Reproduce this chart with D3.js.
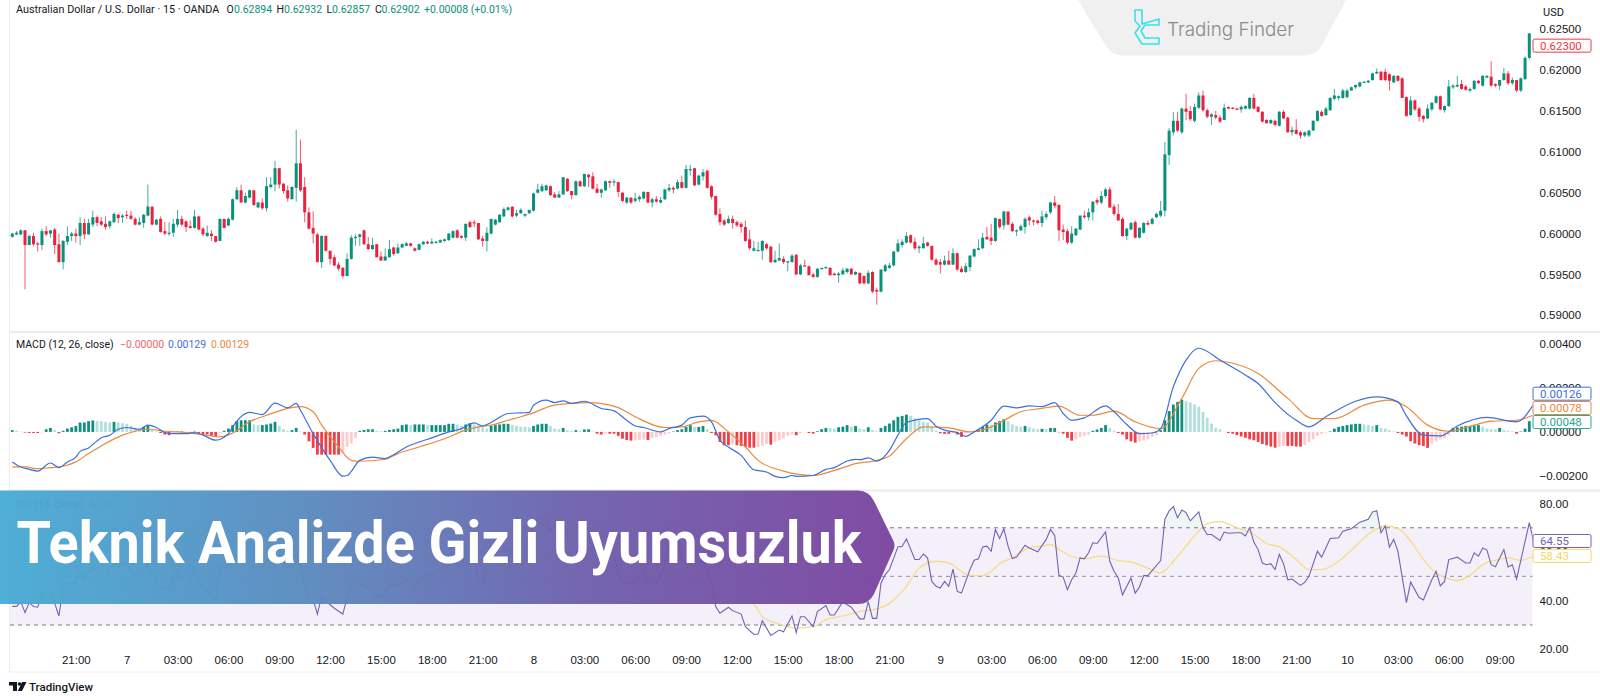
<!DOCTYPE html>
<html>
<head>
<meta charset="utf-8">
<script src="https://cdn.jsdelivr.net/npm/d3@7"></script>
<style>
  html, body { margin: 0; padding: 0; background: #fff; }
  svg { display: block; font-family: Roboto, "Liberation Sans", sans-serif; }
</style>
</head>
<body>
<div id="chart"></div>
<script>
// AUD/USD 15m candles
const opens = [
0.5996,0.5999,0.5999,0.6004,0.5986,0.5997,0.5988,0.5986,0.6003,0.6000,0.6005,0.5987,0.5965,0.5990,0.5997,0.6000,0.5997,0.6013,0.5999,0.6011,
0.6020,0.6015,0.6012,0.6009,0.6014,0.6023,0.6020,0.6023,0.6022,0.6018,0.6011,0.6013,0.6022,0.6033,0.6011,0.6018,0.6003,0.6000,0.6001,0.6011,
0.6018,0.6015,0.6009,0.6007,0.6021,0.6006,0.5997,0.6000,0.5997,0.5991,0.6018,0.6010,0.6017,0.6042,0.6053,0.6038,0.6044,0.6053,0.6032,0.6038,
0.6031,0.6057,0.6060,0.6080,0.6061,0.6053,0.6042,0.6056,0.6086,0.6057,0.6026,0.6007,0.5999,0.5965,0.5997,0.5979,0.5971,0.5962,0.5958,0.5948,
0.5969,0.5995,0.5996,0.6004,0.5987,0.5981,0.5987,0.5972,0.5967,0.5971,0.5983,0.5976,0.5983,0.5985,0.5988,0.5982,0.5980,0.5987,0.5990,0.5988,
0.5989,0.5989,0.5991,0.5992,0.5995,0.6004,0.5997,0.5995,0.6014,0.6014,0.6013,0.5994,0.5991,0.6000,0.6011,0.6014,0.6021,0.6029,0.6033,0.6022,
0.6025,0.6022,0.6025,0.6028,0.6050,0.6052,0.6053,0.6058,0.6048,0.6044,0.6048,0.6067,0.6052,0.6047,0.6064,0.6058,0.6072,0.6070,0.6055,0.6050,
0.6053,0.6064,0.6063,0.6063,0.6050,0.6038,0.6044,0.6040,0.6042,0.6043,0.6051,0.6038,0.6042,0.6038,0.6042,0.6053,0.6056,0.6055,0.6063,0.6056,
0.6078,0.6080,0.6060,0.6070,0.6077,0.6058,0.6046,0.6024,0.6016,0.6013,0.6018,0.6014,0.6012,0.6008,0.5993,0.5979,0.5979,0.5979,0.5987,0.5984,
0.5965,0.5967,0.5969,0.5965,0.5965,0.5974,0.5950,0.5961,0.5960,0.5950,0.5947,0.5957,0.5958,0.5958,0.5951,0.5949,0.5950,0.5953,0.5957,0.5950,
0.5952,0.5948,0.5939,0.5953,0.5931,0.5929,0.5954,0.5958,0.5961,0.5978,0.5986,0.5989,0.5998,0.5990,0.5982,0.5982,0.5989,0.5985,0.5968,0.5965,
0.5962,0.5967,0.5962,0.5976,0.5957,0.5953,0.5959,0.5972,0.5980,0.5982,0.5996,0.5995,0.5991,0.6018,0.6010,0.6027,0.6012,0.6003,0.6004,0.6008,
0.6020,0.6016,0.6016,0.6013,0.6020,0.6026,0.6038,0.6035,0.6005,0.6003,0.5989,0.5998,0.6005,0.6022,0.6020,0.6026,0.6041,0.6038,0.6046,0.6054,
0.6033,0.6024,0.6018,0.5997,0.6005,0.6014,0.5995,0.6001,0.6013,0.6012,0.6020,0.6022,0.6028,0.6096,0.6124,0.6138,0.6124,0.6153,0.6150,0.6138,
0.6154,0.6169,0.6151,0.6143,0.6145,0.6142,0.6139,0.6155,0.6154,0.6153,0.6152,0.6153,0.6153,0.6166,0.6155,0.6149,0.6139,0.6135,0.6138,0.6132,
0.6149,0.6142,0.6124,0.6127,0.6124,0.6120,0.6120,0.6126,0.6138,0.6149,0.6145,0.6151,0.6165,0.6166,0.6166,0.6167,0.6175,0.6179,0.6180,0.6185,
0.6185,0.6188,0.6196,0.6198,0.6198,0.6195,0.6185,0.6193,0.6190,0.6167,0.6145,0.6163,0.6153,0.6144,0.6141,0.6152,0.6160,0.6168,0.6151,0.6156,
0.6179,0.6180,0.6183,0.6180,0.6175,0.6177,0.6187,0.6181,0.6191,0.6192,0.6183,0.6181,0.6188,0.6196,0.6184,0.6188,0.6175,0.6189,0.6215];
const highs = [
0.6001,0.6003,0.6005,0.6004,0.5999,0.6001,0.5990,0.6006,0.6009,0.6004,0.6007,0.6000,0.5992,0.6009,0.6002,0.6006,0.6020,0.6018,0.6018,0.6028,
0.6022,0.6020,0.6021,0.6016,0.6026,0.6024,0.6024,0.6028,0.6028,0.6020,0.6020,0.6024,0.6060,0.6033,0.6018,0.6021,0.6014,0.6014,0.6018,0.6029,
0.6022,0.6016,0.6016,0.6029,0.6022,0.6008,0.6010,0.6004,0.5997,0.6018,0.6018,0.6020,0.6043,0.6057,0.6060,0.6050,0.6054,0.6053,0.6039,0.6043,
0.6069,0.6069,0.6089,0.6080,0.6062,0.6059,0.6058,0.6127,0.6115,0.6069,0.6032,0.6027,0.6001,0.5998,0.5998,0.5979,0.5974,0.5965,0.5959,0.5976,
0.5998,0.5999,0.6000,0.6005,0.5996,0.5995,0.5987,0.5978,0.5982,0.5992,0.5984,0.5988,0.5988,0.5990,0.5989,0.5983,0.5988,0.5991,0.5991,0.5994,
0.5991,0.5993,0.5994,0.6001,0.6004,0.6005,0.5998,0.6012,0.6016,0.6017,0.6013,0.5997,0.6008,0.6018,0.6018,0.6024,0.6032,0.6033,0.6033,0.6029,
0.6031,0.6024,0.6029,0.6050,0.6061,0.6061,0.6060,0.6059,0.6051,0.6052,0.6069,0.6068,0.6052,0.6065,0.6065,0.6073,0.6073,0.6075,0.6061,0.6055,
0.6065,0.6065,0.6067,0.6063,0.6051,0.6045,0.6044,0.6050,0.6047,0.6052,0.6051,0.6044,0.6046,0.6045,0.6055,0.6061,0.6058,0.6066,0.6071,0.6084,
0.6084,0.6080,0.6072,0.6079,0.6078,0.6059,0.6046,0.6031,0.6018,0.6022,0.6022,0.6016,0.6014,0.6016,0.6004,0.5991,0.5990,0.5992,0.5989,0.5985,
0.5979,0.5988,0.5972,0.5967,0.5975,0.5975,0.5963,0.5968,0.5961,0.5952,0.5958,0.5958,0.5960,0.5959,0.5952,0.5953,0.5958,0.5958,0.5958,0.5954,
0.5952,0.5949,0.5955,0.5954,0.5934,0.5956,0.5963,0.5964,0.5979,0.5993,0.5993,0.6002,0.5999,0.5995,0.5986,0.5996,0.5990,0.5985,0.5970,0.5969,
0.5973,0.5979,0.5982,0.5976,0.5960,0.5964,0.5974,0.5982,0.5993,0.6001,0.6008,0.6012,0.6020,0.6018,0.6028,0.6027,0.6014,0.6005,0.6011,0.6020,
0.6022,0.6017,0.6017,0.6028,0.6027,0.6039,0.6046,0.6036,0.6011,0.6006,0.6009,0.6007,0.6022,0.6028,0.6031,0.6040,0.6044,0.6052,0.6056,0.6057,
0.6036,0.6036,0.6020,0.6007,0.6014,0.6016,0.6008,0.6014,0.6016,0.6020,0.6026,0.6040,0.6112,0.6129,0.6149,0.6149,0.6154,0.6171,0.6156,0.6159,
0.6173,0.6175,0.6153,0.6147,0.6150,0.6145,0.6159,0.6155,0.6155,0.6154,0.6157,0.6157,0.6167,0.6171,0.6156,0.6150,0.6140,0.6140,0.6139,0.6150,
0.6151,0.6143,0.6131,0.6140,0.6126,0.6125,0.6127,0.6139,0.6151,0.6151,0.6155,0.6167,0.6177,0.6169,0.6177,0.6177,0.6180,0.6182,0.6186,0.6186,
0.6188,0.6197,0.6202,0.6199,0.6202,0.6196,0.6194,0.6194,0.6191,0.6168,0.6168,0.6164,0.6155,0.6145,0.6158,0.6161,0.6169,0.6169,0.6157,0.6188,
0.6183,0.6193,0.6188,0.6182,0.6179,0.6188,0.6188,0.6194,0.6194,0.6211,0.6184,0.6188,0.6203,0.6199,0.6191,0.6188,0.6191,0.6217,0.6245];
const lows = [
0.5995,0.5998,0.5998,0.5932,0.5986,0.5985,0.5978,0.5980,0.5997,0.5995,0.5975,0.5965,0.5956,0.5986,0.5991,0.5989,0.5986,0.5993,0.5999,0.6008,
0.6009,0.6009,0.6005,0.6006,0.6013,0.6013,0.6013,0.6018,0.6017,0.6010,0.6010,0.6007,0.6021,0.6010,0.6010,0.6001,0.5998,0.5997,0.5996,0.6008,
0.6009,0.6002,0.6006,0.6006,0.6004,0.5997,0.5996,0.5991,0.5989,0.5991,0.6006,0.6009,0.6016,0.6041,0.6038,0.6037,0.6043,0.6034,0.6031,0.6029,
0.6027,0.6055,0.6052,0.6055,0.6049,0.6039,0.6042,0.6039,0.6051,0.6014,0.6005,0.5988,0.5965,0.5958,0.5978,0.5962,0.5960,0.5954,0.5945,0.5948,
0.5968,0.5985,0.5985,0.5986,0.5980,0.5980,0.5971,0.5967,0.5967,0.5971,0.5973,0.5975,0.5982,0.5985,0.5984,0.5978,0.5980,0.5986,0.5987,0.5987,
0.5988,0.5989,0.5990,0.5991,0.5994,0.5994,0.5994,0.5991,0.6007,0.6008,0.5992,0.5984,0.5978,0.5999,0.6010,0.6013,0.6020,0.6028,0.6020,0.6020,
0.6024,0.6020,0.6024,0.6027,0.6049,0.6051,0.6052,0.6046,0.6044,0.6044,0.6047,0.6051,0.6042,0.6047,0.6057,0.6057,0.6057,0.6054,0.6049,0.6044,
0.6052,0.6056,0.6058,0.6045,0.6038,0.6036,0.6036,0.6038,0.6039,0.6042,0.6037,0.6032,0.6038,0.6037,0.6041,0.6051,0.6049,0.6054,0.6055,0.6055,
0.6071,0.6058,0.6059,0.6065,0.6055,0.6042,0.6022,0.6010,0.6009,0.6012,0.6006,0.6008,0.6001,0.5990,0.5980,0.5978,0.5978,0.5968,0.5980,0.5964,
0.5964,0.5967,0.5963,0.5954,0.5965,0.5949,0.5949,0.5960,0.5949,0.5946,0.5946,0.5956,0.5957,0.5949,0.5949,0.5940,0.5950,0.5951,0.5950,0.5949,
0.5938,0.5938,0.5938,0.5927,0.5913,0.5928,0.5953,0.5957,0.5960,0.5977,0.5983,0.5988,0.5988,0.5980,0.5976,0.5982,0.5984,0.5967,0.5961,0.5951,
0.5961,0.5962,0.5962,0.5954,0.5952,0.5952,0.5954,0.5971,0.5980,0.5981,0.5992,0.5986,0.5990,0.6006,0.6005,0.6010,0.6002,0.5997,0.6003,0.6000,
0.6010,0.6010,0.6011,0.6008,0.6017,0.6024,0.6031,0.5991,0.5992,0.5987,0.5987,0.5997,0.6004,0.6018,0.6016,0.6016,0.6035,0.6036,0.6044,0.6031,
0.6022,0.6016,0.5996,0.5992,0.6004,0.5994,0.5994,0.6000,0.6010,0.6011,0.6019,0.6020,0.6021,0.6084,0.6120,0.6124,0.6122,0.6139,0.6138,0.6136,
0.6152,0.6149,0.6141,0.6133,0.6140,0.6135,0.6139,0.6152,0.6152,0.6151,0.6148,0.6152,0.6152,0.6152,0.6148,0.6136,0.6135,0.6134,0.6131,0.6131,
0.6140,0.6123,0.6120,0.6121,0.6116,0.6118,0.6118,0.6126,0.6137,0.6143,0.6144,0.6150,0.6163,0.6163,0.6165,0.6165,0.6175,0.6177,0.6179,0.6184,
0.6184,0.6187,0.6195,0.6187,0.6186,0.6175,0.6184,0.6186,0.6166,0.6143,0.6144,0.6150,0.6137,0.6136,0.6140,0.6150,0.6159,0.6151,0.6148,0.6155,
0.6177,0.6179,0.6176,0.6175,0.6173,0.6176,0.6183,0.6180,0.6190,0.6180,0.6179,0.6176,0.6187,0.6182,0.6182,0.6173,0.6173,0.6188,0.6213];
const closes = [
0.6000,0.6001,0.6004,0.5986,0.5997,0.5987,0.5987,0.6003,0.5999,0.6004,0.5986,0.5965,0.5991,0.5997,0.6000,0.5997,0.6013,0.5999,0.6013,0.6020,
0.6013,0.6011,0.6008,0.6015,0.6024,0.6019,0.6022,0.6022,0.6018,0.6011,0.6014,0.6023,0.6033,0.6011,0.6017,0.6002,0.6000,0.6001,0.6012,0.6018,
0.6011,0.6008,0.6007,0.6021,0.6005,0.5999,0.6001,0.5997,0.5990,0.6018,0.6007,0.6018,0.6042,0.6053,0.6038,0.6046,0.6053,0.6035,0.6038,0.6031,
0.6058,0.6060,0.6080,0.6060,0.6052,0.6043,0.6057,0.6086,0.6053,0.6026,0.6006,0.6000,0.5965,0.5997,0.5979,0.5969,0.5961,0.5957,0.5948,0.5969,
0.5995,0.5996,0.5999,0.5987,0.5981,0.5986,0.5971,0.5967,0.5972,0.5981,0.5975,0.5983,0.5987,0.5988,0.5985,0.5979,0.5987,0.5990,0.5988,0.5990,
0.5990,0.5992,0.5993,0.6000,0.6003,0.5995,0.5995,0.6012,0.6008,0.6013,0.5993,0.5991,0.6001,0.6018,0.6017,0.6023,0.6030,0.6032,0.6021,0.6025,
0.6029,0.6024,0.6029,0.6049,0.6054,0.6058,0.6059,0.6047,0.6044,0.6048,0.6069,0.6052,0.6047,0.6064,0.6058,0.6073,0.6069,0.6055,0.6050,0.6054,
0.6064,0.6062,0.6064,0.6051,0.6040,0.6044,0.6038,0.6043,0.6045,0.6051,0.6038,0.6042,0.6039,0.6041,0.6054,0.6056,0.6054,0.6063,0.6056,0.6079,
0.6079,0.6059,0.6071,0.6075,0.6056,0.6045,0.6023,0.6014,0.6011,0.6018,0.6013,0.6010,0.6008,0.5991,0.5982,0.5982,0.5980,0.5991,0.5982,0.5965,
0.5968,0.5970,0.5965,0.5966,0.5973,0.5950,0.5961,0.5960,0.5949,0.5947,0.5957,0.5958,0.5959,0.5949,0.5949,0.5951,0.5955,0.5957,0.5950,0.5953,
0.5939,0.5939,0.5952,0.5929,0.5929,0.5956,0.5961,0.5961,0.5978,0.5988,0.5990,0.5997,0.5989,0.5982,0.5984,0.5988,0.5985,0.5968,0.5962,0.5962,
0.5967,0.5962,0.5976,0.5956,0.5953,0.5960,0.5973,0.5981,0.5982,0.5995,0.5993,0.5991,0.6019,0.6008,0.6027,0.6011,0.6003,0.6004,0.6009,0.6018,
0.6016,0.6015,0.6013,0.6021,0.6024,0.6038,0.6034,0.6004,0.6002,0.5989,0.6000,0.6006,0.6022,0.6020,0.6026,0.6039,0.6038,0.6046,0.6054,0.6032,
0.6024,0.6016,0.5997,0.6006,0.6013,0.5995,0.6007,0.6013,0.6011,0.6018,0.6024,0.6028,0.6097,0.6126,0.6138,0.6126,0.6153,0.6149,0.6140,0.6155,
0.6169,0.6151,0.6143,0.6146,0.6142,0.6137,0.6154,0.6153,0.6153,0.6152,0.6155,0.6156,0.6166,0.6153,0.6149,0.6137,0.6135,0.6139,0.6133,0.6149,
0.6141,0.6124,0.6127,0.6122,0.6120,0.6124,0.6126,0.6138,0.6150,0.6144,0.6153,0.6166,0.6169,0.6168,0.6175,0.6175,0.6179,0.6182,0.6185,0.6186,
0.6187,0.6196,0.6198,0.6188,0.6188,0.6187,0.6193,0.6187,0.6166,0.6144,0.6163,0.6152,0.6143,0.6140,0.6153,0.6160,0.6168,0.6152,0.6156,0.6180,
0.6181,0.6182,0.6177,0.6176,0.6177,0.6187,0.6184,0.6193,0.6193,0.6181,0.6181,0.6188,0.6196,0.6184,0.6188,0.6175,0.6190,0.6215,0.6245];

// MACD pane. Histogram has one reading per bar, the two lines are traced at their turning points
const macdHist = [
0.00008,0.00005,0.00002,-0.00003,-0.00005,-0.00005,-0.00005,-0.00002,0.00012,0.00018,0.00008,-0.00006,0.00005,0.00015,0.00021,0.00027,0.00043,0.00043,0.00049,0.00052,
0.00050,0.00049,0.00046,0.00043,0.00046,0.00043,0.00040,0.00037,0.00027,0.00018,0.00015,0.00023,0.00027,0.00008,0.00002,-0.00005,-0.00012,-0.00015,-0.00003,0.00002,
0.00002,-0.00002,-0.00003,0.00002,-0.00005,-0.00012,-0.00012,-0.00018,-0.00021,-0.00005,0.00005,0.00015,0.00031,0.00049,0.00053,0.00053,0.00053,0.00034,0.00031,0.00031,
0.00034,0.00038,0.00046,0.00027,0.00012,0.00005,0.00008,0.00018,0.00002,-0.00012,-0.00043,-0.00073,-0.00104,-0.00104,-0.00104,-0.00104,-0.00104,-0.00104,-0.00095,-0.00069,
-0.00053,-0.00027,0.00005,0.00009,0.00012,0.00012,0.00005,0.00003,0.00005,0.00009,0.00012,0.00015,0.00031,0.00034,0.00031,0.00034,0.00034,0.00034,0.00031,0.00031,
0.00031,0.00031,0.00031,0.00037,0.00037,0.00034,0.00027,0.00034,0.00040,0.00034,0.00027,0.00021,0.00015,0.00027,0.00031,0.00034,0.00037,0.00037,0.00031,0.00027,
0.00024,0.00023,0.00021,0.00027,0.00034,0.00037,0.00037,0.00027,0.00015,0.00012,0.00018,0.00008,0.00005,0.00008,0.00005,0.00011,0.00012,0.00002,-0.00008,-0.00012,
-0.00008,-0.00008,-0.00008,-0.00018,-0.00031,-0.00037,-0.00040,-0.00038,-0.00037,-0.00035,-0.00037,-0.00027,-0.00023,-0.00018,-0.00012,-0.00006,0.00002,0.00008,0.00012,0.00023,
0.00031,0.00023,0.00023,0.00027,0.00012,-0.00005,-0.00015,-0.00046,-0.00061,-0.00061,-0.00058,-0.00061,-0.00064,-0.00069,-0.00072,-0.00072,-0.00069,-0.00064,-0.00055,-0.00058,
-0.00046,-0.00038,-0.00031,-0.00018,-0.00012,-0.00015,-0.00005,-0.00002,-0.00005,-0.00008,0.00003,0.00012,0.00018,0.00017,0.00015,0.00021,0.00024,0.00031,0.00024,0.00027,
0.00015,0.00012,0.00021,0.00009,0.00003,0.00018,0.00027,0.00038,0.00053,0.00069,0.00073,0.00079,0.00073,0.00061,0.00053,0.00046,0.00043,0.00023,0.00006,-0.00006,
-0.00009,-0.00009,-0.00006,-0.00012,-0.00023,-0.00008,-0.00002,0.00002,0.00012,0.00023,0.00034,0.00031,0.00043,0.00049,0.00058,0.00049,0.00034,0.00027,0.00024,0.00027,
0.00021,0.00015,0.00012,0.00014,0.00012,0.00018,0.00018,-0.00002,-0.00008,-0.00027,-0.00040,-0.00034,-0.00024,-0.00018,-0.00012,0.00005,0.00011,0.00018,0.00031,0.00018,
0.00005,-0.00005,-0.00012,-0.00034,-0.00043,-0.00049,-0.00043,-0.00040,-0.00034,-0.00023,-0.00015,0.00008,0.00053,0.00095,0.00125,0.00137,0.00147,0.00140,0.00134,0.00125,
0.00115,0.00092,0.00064,0.00038,0.00018,0.00012,0.00002,-0.00005,-0.00008,-0.00015,-0.00021,-0.00027,-0.00034,-0.00038,-0.00046,-0.00055,-0.00061,-0.00067,-0.00072,-0.00067,
-0.00064,-0.00064,-0.00064,-0.00067,-0.00067,-0.00061,-0.00046,-0.00034,-0.00018,-0.00009,-0.00003,0.00002,0.00015,0.00023,0.00027,0.00031,0.00034,0.00037,0.00037,0.00034,
0.00031,0.00027,0.00031,0.00018,0.00015,0.00008,0.00003,-0.00005,-0.00012,-0.00021,-0.00043,-0.00053,-0.00061,-0.00064,-0.00073,-0.00053,-0.00043,-0.00034,-0.00027,-0.00015,
0.00018,0.00021,0.00024,0.00027,0.00027,0.00029,0.00031,0.00024,0.00015,0.00012,0.00011,0.00018,0.00009,0.00006,0.00003,-0.00008,0.00002,0.00015,0.00049];
const macdBars = [0,2,4,6,9,11,13,15,16,18,20,21,23,25,27,30,32,34,36,38,41,43,45,48,51,52,56,59,62,65,67,68,71,75,78,79,82,85,88,90,93,96,99,103,106,109,111,113,117,120,
122,123,126,128,130,132,135,139,142,145,147,149,153,155,158,160,163,165,167,169,172,175,178,180,182,184,185,189,192,194,197,199,200,202,204,207,209,211,216,218,220,223,225,227,231,234,237,240,243,
246,248,250,253,258,260,263,266,269,271,274,277,280,285,291,294,298,303,306,310,317,322,327,329,333,337,341,348,355,359];
const macdLine = [-0.00137,-0.00160,-0.00171,-0.00179,-0.00142,-0.00163,-0.00137,-0.00115,-0.00089,-0.00073,-0.00041,-0.00027,-0.00015,0.00012,0.00020,0.00012,0.00031,0.00020,-0.00003,-0.00008,-0.00008,-0.00003,-0.00015,-0.00038,-0.00008,0.00023,0.00089,0.00079,0.00131,0.00110,0.00130,0.00099,-0.00008,-0.00130,-0.00202,-0.00199,-0.00130,-0.00115,-0.00122,-0.00104,-0.00069,-0.00046,-0.00027,0.00000,0.00015,0.00041,0.00027,0.00043,0.00084,0.00087,
0.00089,0.00122,0.00145,0.00134,0.00142,0.00130,0.00140,0.00107,0.00096,0.00053,0.00027,0.00020,0.00000,0.00015,0.00031,0.00064,0.00072,0.00046,-0.00038,-0.00069,-0.00107,-0.00173,-0.00183,-0.00203,-0.00209,-0.00199,-0.00203,-0.00199,-0.00171,-0.00163,-0.00133,-0.00125,-0.00127,-0.00119,-0.00133,-0.00084,-0.00015,0.00043,0.00061,0.00026,0.00008,-0.00003,-0.00020,0.00000,0.00053,0.00118,0.00110,0.00119,0.00115,
0.00134,0.00084,0.00053,0.00064,0.00119,0.00092,0.00034,-0.00008,-0.00005,0.00015,0.00206,0.00328,0.00382,0.00328,0.00260,0.00221,0.00134,0.00053,0.00023,0.00069,0.00140,0.00160,0.00137,0.00073,-0.00015,-0.00018,0.00027,0.00066,0.00046,0.00126];
const signalBars = [0,3,6,9,12,15,18,21,26,29,32,36,41,45,49,52,56,60,64,68,71,73,77,80,82,88,91,96,102,107,110,113,117,120,
123,127,132,136,143,147,154,158,162,165,169,173,176,182,189,194,199,204,207,211,215,221,226,230,234,238,243,
247,252,255,260,265,271,276,280,284,287,294,301,307,312,319,325,329,334,339,345,349,355,359];
const signalLine = [-0.00160,-0.00160,-0.00168,-0.00163,-0.00157,-0.00137,-0.00099,-0.00064,-0.00015,0.00003,0.00012,0.00003,-0.00003,-0.00012,-0.00023,-0.00005,0.00046,0.00076,0.00102,0.00115,0.00092,0.00031,-0.00069,-0.00130,-0.00134,-0.00125,-0.00099,-0.00069,-0.00031,0.00008,0.00023,0.00031,0.00053,0.00069,
0.00087,0.00118,0.00130,0.00134,0.00111,0.00069,0.00020,0.00023,0.00046,0.00053,0.00000,-0.00069,-0.00130,-0.00179,-0.00199,-0.00176,-0.00145,-0.00130,-0.00110,-0.00031,0.00023,0.00018,0.00000,0.00015,0.00053,0.00092,0.00107,
0.00118,0.00076,0.00076,0.00095,0.00046,0.00015,0.00153,0.00290,0.00325,0.00318,0.00267,0.00153,0.00061,0.00061,0.00122,0.00145,0.00115,0.00031,0.00003,0.00031,0.00049,0.00053,0.00078];

// RSI pane, traced at the corners of the lines
const rsiBars = [0,1,2,3,4,5,6,7,8,9,10,11,12,13,15,16,17,19,20,22,23,25,27,29,30,32,33,35,37,39,40,42,43,44,46,48,49,50,52,55,58,59,61,63,65,67,68,69,70,71,72,73,75,76,78,80,81,82,84,86,88,89,91,93,95,97,98,100,103,104,106,107,109,110,111,112,114,
120,121,124,126,127,128,130,132,135,138,142,143,144,146,148,149,150,151,152,154,155,157,158,160,161,163,165,166,167,169,170,172,173,175,176,177,179,181,182,184,185,186,187,189,190,192,193,194,196,197,198,200,201,202,203,204,205,206,207,209,210,211,213,214,215,216,217,218,219,220,221,222,223,224,226,227,228,229,230,231,232,233,234,235,236,237,239,240,242,
244,245,246,247,248,249,250,251,252,253,254,255,256,258,259,260,261,262,264,265,266,267,268,271,272,273,274,275,276,277,278,280,281,282,283,285,286,287,289,290,291,292,293,294,295,296,297,298,299,300,301,302,304,305,306,308,309,311,313,314,316,318,320,321,322,323,324,325,326,327,329,330,332,333,335,336,337,338,339,341,343,344,345,346,347,348,349,350,352,353,354,355,358,359];
const rsiValues = [37.6,37.6,39.6,35.1,39.2,37.6,37.3,42.8,43.8,44.2,39.0,33.7,45.2,47.0,47.2,51.6,48.9,53.4,52.1,50.3,53.9,55.2,55.2,49.7,50.7,54.8,50.0,45.2,44.7,52.8,48.6,47.9,54.1,47.9,44.5,40.3,53.9,53.4,55.5,63.8,58.3,54.1,58.3,56.2,53.4,59.0,54.8,46.5,41.7,40.3,34.5,42.0,38.3,36.9,34.5,47.9,49.3,46.5,45.2,41.7,41.7,46.5,46.5,48.9,46.5,50.3,50.0,52.1,54.8,56.2,52.8,61.0,61.7,48.3,47.9,54.8,59.7,
61.7,61.7,74.1,74.8,68.6,72.1,71.4,59.7,61.0,62.4,59.7,51.4,47.2,47.0,49.3,52.8,45.9,48.6,47.2,54.8,63.1,65.2,56.9,54.8,56.2,56.2,47.2,37.6,34.8,37.3,35.9,34.5,29.3,26.1,26.3,31.8,25.7,27.9,27.2,33.7,26.9,33.4,33.4,29.3,35.5,38.0,34.1,34.1,39.6,38.3,37.3,32.5,32.5,39.6,32.7,32.7,47.2,50.7,52.8,62.1,62.4,65.4,56.9,56.9,59.2,57.6,47.9,45.9,45.2,47.9,45.9,53.0,43.8,43.1,52.8,56.6,57.2,62.1,62.4,60.3,69.3,65.6,69.6,62.4,57.3,57.9,62.8,61.7,60.1,
65.2,69.3,66.8,50.4,49.7,44.5,48.6,51.4,57.6,57.2,59.7,63.8,63.5,68.3,56.2,52.1,49.3,42.4,49.3,43.1,45.6,50.3,50.3,56.5,73.5,76.9,78.7,74.1,77.3,76.2,72.8,76.5,70.0,67.2,67.2,64.8,68.2,67.7,67.9,67.9,66.6,70.0,64.1,61.0,55.5,54.8,55.2,52.8,59.0,55.2,48.6,48.9,46.3,47.5,50.0,60.3,57.9,65.6,65.9,68.6,69.6,72.3,73.5,76.5,77.0,67.9,70.7,62.0,65.2,60.3,39.2,47.6,41.3,40.3,48.6,52.1,46.1,47.9,56.9,57.9,55.5,55.5,59.7,58.3,61.7,60.8,54.8,53.9,61.0,53.9,54.8,48.9,72.1,64.55];
const rsiMaBars = [0,20,40,60,80,100,120,140,160,170,175,177,181,183,185,189,192,196,200,204,207,211,214,218,221,224,226,229,231,233,236,239,241,243,245,247,249,253,257,261,264,268,271,274,277,280,282,285,289,293,296,299,303,306,309,313,317,321,324,327,330,333,336,339,341,344,347,350,353,356,359];
const rsiMaValues = [38,45,49,54,50,47,56,62,55,44,38.7,33.4,30.4,29.3,28.7,29.3,32.1,33.7,35.5,36.6,38.9,45.9,53.4,56.2,55.5,52.1,50.3,50.3,52.1,55.2,57.6,61.0,62.1,62.4,63.1,61.0,59.0,57.3,58.3,56.5,55.9,53.4,51.4,56.2,62.4,68.6,71.7,72.5,70.0,67.2,63.5,62.1,56.9,52.8,52.8,56.2,62.4,68.6,70.7,69.7,64.5,56.9,51.4,49.0,48.3,50.4,54.8,56.6,57.6,56.6,58.43];

// axis ticks
const priceTicks = [0.59, 0.595, 0.60, 0.605, 0.61, 0.615, 0.62, 0.625];
const macdTicks = [-0.002, 0, 0.002, 0.004];
const rsiTicks = [20, 40, 60, 80];
const rsiLevels = [70, 50, 30];
const timeBars = [15,27,39,51,63,75,87,99,111,123,135,147,159,171,183,195,207,219,231,243,255,267,279,291,303,315,327,339,351];
const timeLabels = ["21:00","7","03:00","06:00","09:00","12:00","15:00","18:00","21:00","8","03:00","06:00","09:00","12:00","15:00","18:00","21:00","9","03:00","06:00","09:00","12:00","15:00","18:00","21:00","10","03:00","06:00","09:00"];

const GREEN = "#08917b", RED = "#e9213f";
const BLUE = "#3f6fd8", ORANGE = "#e98a3c", PURPLE = "#7262b5";
const W = 1600, H = 700, plotL = 10, plotR = 1532.5;

const svg = d3.select("#chart").append("svg").attr("width", W).attr("height", H);
const defs = svg.append("defs");

const x = d3.scaleLinear().domain([0, 358]).range([12.3, 1529.3]);
const yPrice = d3.scaleLinear().domain([0.59, 0.625]).range([315.3, 29.3]);
const yMacd = d3.scaleLinear().domain([-0.002, 0.004]).range([475.7, 344.3]);
const yRsi = d3.scaleLinear().domain([20, 80]).range([649.3, 503.4]);

defs.append("clipPath").attr("id", "plotClip").append("rect")
  .attr("x", plotL).attr("y", 0).attr("width", plotR - plotL).attr("height", 672);
defs.append("clipPath").attr("id", "obClip").append("rect")
  .attr("x", plotL).attr("y", 490).attr("width", plotR - plotL).attr("height", yRsi(70) - 490);

// pane frames
const frame = svg.append("g").attr("stroke", "#ececec").attr("fill", "none");
frame.append("line").attr("x1", 9.5).attr("x2", 9.5).attr("y1", 0).attr("y2", 672);
[332, 490.5].forEach(y => {
  frame.append("line").attr("x1", 9.5).attr("x2", 1600).attr("y1", y).attr("y2", y).attr("stroke-width", 2);
});
frame.append("line").attr("x1", 9.5).attr("x2", 1600).attr("y1", 672).attr("y2", 672);

// candles
const bars = d3.range(closes.length);
const candles = svg.append("g").attr("clip-path", "url(#plotClip)");
candles.selectAll("line").data(bars).join("line")
  .attr("x1", i => x(i)).attr("x2", i => x(i))
  .attr("y1", i => yPrice(Math.max(highs[i], opens[i], closes[i])))
  .attr("y2", i => yPrice(Math.min(lows[i], opens[i], closes[i])))
  .attr("stroke", i => closes[i] >= opens[i] ? GREEN : RED)
  .attr("stroke-opacity", 0.75);
candles.selectAll("rect").data(bars).join("rect")
  .attr("x", i => x(i) - 1.5).attr("width", 3)
  .attr("y", i => yPrice(Math.max(opens[i], closes[i])))
  .attr("height", i => Math.max(1.2, Math.abs(yPrice(opens[i]) - yPrice(closes[i]))))
  .attr("fill", i => closes[i] >= opens[i] ? GREEN : RED);

// MACD histogram: shade follows whether the bar grows or shrinks
const histColor = i => {
  const v = macdHist[i], p = i ? macdHist[i - 1] : 0;
  if (v >= 0) return v >= p ? "#0f8f7e" : "#b2dfdb";
  return v <= p ? "#ef4049" : "#fccbcd";
};
svg.append("g").attr("clip-path", "url(#plotClip)")
  .selectAll("rect").data(macdHist).join("rect")
  .attr("x", (d, i) => x(i) - 1.4).attr("width", 2.8)
  .attr("y", d => Math.min(yMacd(d), yMacd(0)))
  .attr("height", d => Math.abs(yMacd(d) - yMacd(0)))
  .attr("fill", (d, i) => histColor(i));

const tracedLine = (yScale, vals) => d3.line().curve(d3.curveMonotoneX).x(d => x(d)).y((d, i) => yScale(vals[i]));
const macdLines = svg.append("g").attr("clip-path", "url(#plotClip)").attr("fill", "none").attr("stroke-width", 1.2);
macdLines.append("path").attr("d", tracedLine(yMacd, signalLine)(signalBars)).attr("stroke", ORANGE);
macdLines.append("path").attr("d", tracedLine(yMacd, macdLine)(macdBars)).attr("stroke", BLUE);

// RSI pane
svg.append("rect").attr("x", plotL).attr("width", plotR - plotL)
  .attr("y", yRsi(70)).attr("height", yRsi(30) - yRsi(70)).attr("fill", "#7e57c2").attr("fill-opacity", 0.09);
svg.append("g").selectAll("line").data(rsiLevels).join("line")
  .attr("x1", plotL).attr("x2", plotR).attr("y1", d => yRsi(d)).attr("y2", d => yRsi(d))
  .attr("stroke", "#787b86").attr("stroke-dasharray", "4 4")
  .attr("stroke-width", d => d === 50 ? 0.8 : 1.1);
svg.append("path").attr("clip-path", "url(#obClip)")
  .attr("d", d3.area().x(d => x(d)).y0(yRsi(70)).y1((d, i) => yRsi(rsiValues[i]))(rsiBars))
  .attr("fill", "#089981").attr("fill-opacity", 0.08);
const rsiLines = svg.append("g").attr("clip-path", "url(#plotClip)").attr("fill", "none");
rsiLines.append("path").attr("d", tracedLine(yRsi, rsiMaValues)(rsiMaBars)).attr("stroke", "#f7dc85").attr("stroke-width", 1.3);
rsiLines.append("path").attr("d", d3.line().x(d => x(d)).y((d, i) => yRsi(rsiValues[i]))(rsiBars)).attr("stroke", PURPLE).attr("stroke-width", 1.1);

// axes
const styleAxis = g => {
  g.select(".domain").remove();
  g.selectAll("text").attr("fill", "#131722").attr("font-size", 11.5);
};
svg.append("g").attr("transform", `translate(${plotR},0)`)
  .call(d3.axisRight(yPrice).tickValues(priceTicks).tickSize(0).tickPadding(7).tickFormat(d3.format(".5f"))).call(styleAxis);
svg.append("g").attr("transform", `translate(${plotR},0)`)
  .call(d3.axisRight(yMacd).tickValues(macdTicks).tickSize(0).tickPadding(7).tickFormat(d => d3.format(".5f")(d).replace("-", "\u2212"))).call(styleAxis);
svg.append("g").attr("transform", `translate(${plotR},0)`)
  .call(d3.axisRight(yRsi).tickValues(rsiTicks).tickSize(0).tickPadding(7).tickFormat(d3.format(".2f"))).call(styleAxis);
svg.append("g").attr("transform", "translate(0,651)")
  .call(d3.axisBottom(x).tickValues(timeBars).tickSize(0).tickPadding(5).tickFormat((d, i) => timeLabels[i])).call(styleAxis);

svg.append("text").attr("x", 1543).attr("y", 15.5).attr("font-size", 11).attr("fill", "#131722").text("USD");

// last value tags on the right, the MACD ones are pushed apart like on the chart
const tag = (y, label, color) => {
  svg.append("rect").attr("x", plotR + 0.5).attr("y", y - 6.5).attr("width", 58).attr("height", 13)
    .attr("fill", "#fff").attr("stroke", color).attr("rx", 1.5);
  svg.append("text").attr("x", plotR + 7.5).attr("y", y + 4).attr("font-size", 11.5).attr("fill", color).text(label);
};
tag(yPrice(0.6230), "0.62300", "#f23645");
tag(393.7, "0.00126", BLUE);
tag(408, "0.00078", ORANGE);
tag(422, "0.00048", "#2ba898");
tag(yRsi(64.55), "64.55", PURPLE);
tag(yRsi(58.43), "58.43", "#f5d565");

// legends
const legend = (y, size, items) => {
  const g = svg.append("g").attr("font-size", size);
  items.forEach(([lx, label, color]) => g.append("text").attr("x", lx).attr("y", y).attr("fill", color).text(label));
};
legend(12.7, 10.8, [[16, "Australian Dollar / U.S. Dollar \u00b7 15 \u00b7 OANDA", "#131722"]]);
legend(12.7, 10.5, [
  [226.5, "O", "#131722"], [234, "0.62894", GREEN],
  [276.5, "H", "#131722"], [284, "0.62932", GREEN],
  [326.5, "L", "#131722"], [332, "0.62857", GREEN],
  [375, "C", "#131722"], [381.5, "0.62902", GREEN],
  [424, "+0.00008 (+0.01%)", GREEN]
]);
legend(348, 10.5, [
  [16, "MACD (12, 26, close)", "#131722"],
  [120, "\u22120.00000", "#f25f6b"],
  [168, "0.00129", BLUE],
  [211, "0.00129", ORANGE]
]);
legend(507.5, 10.5, [
  [16, "RSI (14, close)", "#131722"],
  [90, "61.96", PURPLE]
]);

// watermark
svg.append("path").attr("fill", "#f0f0f0")
  .attr("d", "M1078,0L1346,0L1322,45Q1316,55.5 1304,55.5L1122,55.5Q1112,55.5 1106,46Z");
svg.append("path").attr("fill", "none").attr("stroke", "#35e2ee").attr("stroke-width", 1.6)
  .attr("stroke-linejoin", "round")
  .attr("d", "M1135,10L1142,10L1142,24L1159,19L1159,25L1145,25L1141,31L1145,38L1159,38L1159,44L1142,44L1135,33L1140,26L1135,21Z");
svg.append("text").attr("x", 1167).attr("y", 36).attr("font-family", "Inter").attr("font-size", 18.5)
  .attr("font-weight", 300).attr("fill", "#8a8a8a").attr("textLength", 127).attr("lengthAdjust", "spacingAndGlyphs").text("Trading Finder");

// title banner, slightly see-through over the RSI pane
const grad = defs.append("linearGradient").attr("id", "bannerFill");
[[0, "#48abd5"], [0.33, "#5a8cc0"], [0.66, "#6f5fab"], [1, "#7b459f"]].forEach(([o, c]) => {
  grad.append("stop").attr("offset", o).attr("stop-color", c);
});
const bp = d3.path();
bp.moveTo(0, 490.5);
bp.lineTo(858, 490.5);
bp.quadraticCurveTo(869, 490.5, 874, 501);
bp.lineTo(893.5, 541);
bp.quadraticCurveTo(895.5, 545.5, 893.5, 550);
bp.lineTo(874, 594);
bp.quadraticCurveTo(869, 604, 858, 604);
bp.lineTo(0, 604);
bp.closePath();
svg.append("path").attr("d", bp.toString()).attr("fill", "url(#bannerFill)").attr("fill-opacity", 0.96);
svg.append("text").attr("x", 16.5).attr("y", 563.3).attr("font-size", 58.5).attr("font-weight", 700)
  .attr("fill", "#fff").attr("textLength", 845).attr("lengthAdjust", "spacingAndGlyphs").text("Teknik Analizde Gizli Uyumsuzluk");

// TradingView mark
const tv = svg.append("g").attr("fill", "#131722");
tv.append("path").attr("d", "M9,682L17,682L17,691L13,691L13,685.5L9,685.5Z");
tv.append("circle").attr("cx", 19.5).attr("cy", 684).attr("r", 1.8);
tv.append("path").attr("d", "M22,682L26.5,682L22,691L17.8,691Z");
tv.append("text").attr("x", 29).attr("y", 690.5).attr("font-size", 11.5).attr("font-weight", 500).text("TradingView");
</script>
</body>
</html>
